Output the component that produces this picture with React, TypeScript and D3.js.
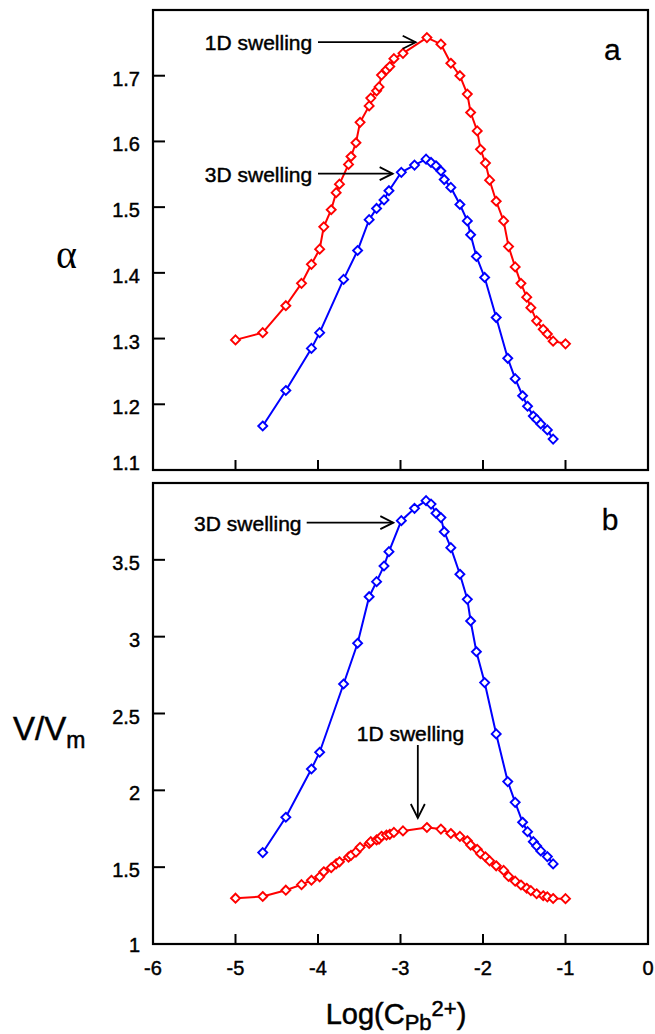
import React from "react";
import * as d3 from "d3";

// ---------- data ----------
const xTickValues = [-6, -5, -4, -3, -2, -1, 0];
const alphaTickValues = [1.1, 1.2, 1.3, 1.4, 1.5, 1.6, 1.7];
const vTickValues = [1, 1.5, 2, 2.5, 3, 3.5];

// 1D swelling (red)
const logC1D = [
  -5.0, -4.67, -4.39, -4.2, -4.08, -3.98, -3.93, -3.84, -3.78, -3.74, -3.63, -3.6,
  -3.54, -3.49, -3.38, -3.36, -3.29, -3.26, -3.23, -3.17, -3.13, -3.08, -2.97, -2.68,
  -2.51, -2.39, -2.28, -2.19, -2.15, -2.07, -2.03, -1.97, -1.92, -1.84, -1.75, -1.69,
  -1.61, -1.54, -1.47, -1.42, -1.35, -1.27, -1.22, -1.15, -1.0,
];
const alpha1D = [
  1.298, 1.309, 1.35, 1.384, 1.413, 1.436, 1.47, 1.496, 1.522, 1.535, 1.565, 1.577,
  1.598, 1.629, 1.654, 1.666, 1.677, 1.683, 1.701, 1.709, 1.714, 1.726, 1.734, 1.758,
  1.748, 1.719, 1.7, 1.672, 1.644, 1.616, 1.588, 1.567, 1.541, 1.509, 1.479, 1.44,
  1.409, 1.384, 1.363, 1.347, 1.327, 1.314, 1.307, 1.296, 1.292,
];
const vvm1D = [
  1.298, 1.309, 1.35, 1.386, 1.415, 1.437, 1.47, 1.496, 1.522, 1.535, 1.565, 1.577,
  1.598, 1.629, 1.654, 1.666, 1.677, 1.683, 1.701, 1.709, 1.714, 1.726, 1.736, 1.758,
  1.748, 1.719, 1.7, 1.672, 1.644, 1.616, 1.588, 1.567, 1.541, 1.509, 1.479, 1.44,
  1.409, 1.384, 1.363, 1.347, 1.327, 1.314, 1.307, 1.296, 1.295,
];

// 3D swelling (blue)
const logC3D = [
  -4.67, -4.39, -4.08, -3.98, -3.69, -3.52, -3.38, -3.29, -3.2, -3.14, -2.99, -2.83,
  -2.69, -2.63, -2.57, -2.51, -2.47, -2.39, -2.28, -2.19, -2.15, -2.08, -1.98, -1.84,
  -1.7, -1.61, -1.52, -1.46, -1.39, -1.35, -1.3, -1.22, -1.15,
];
const alpha3D = [
  1.167, 1.221, 1.285, 1.309, 1.39, 1.434, 1.481, 1.498, 1.511, 1.525, 1.553, 1.564,
  1.573, 1.568, 1.563, 1.555, 1.542, 1.53, 1.504, 1.479, 1.458, 1.425, 1.393, 1.332,
  1.27, 1.239, 1.213, 1.197, 1.182, 1.177, 1.17, 1.161, 1.147,
];
const vvm3D = [
  1.595, 1.825, 2.139, 2.248, 2.692, 2.957, 3.26, 3.358, 3.46, 3.553, 3.755, 3.835,
  3.885, 3.863, 3.803, 3.775, 3.683, 3.579, 3.406, 3.243, 3.102, 2.902, 2.701, 2.367,
  2.057, 1.922, 1.792, 1.731, 1.666, 1.638, 1.606, 1.569, 1.521,
];

// ---------- layout ----------
const W = 655;
const H = 1034;
const LEFT = 153;
const RIGHT = 648;
const FONT = "'Liberation Sans', Arial, Helvetica, sans-serif";
const RED = "#ff0000";
const BLUE = "#0000ff";
const TXT = { fontFamily: FONT, stroke: "#000", strokeWidth: 0.45 } as const;

const x = d3.scaleLinear().domain([-6, 0]).range([LEFT, RIGHT]);
const yTop = d3.scaleLinear().domain([1.1, 1.8]).range([470, 10]);
const yBot = d3.scaleLinear().domain([1, 4]).range([944, 483]);

type Pt = [number, number];
const zip = (xs: number[], ys: number[]): Pt[] => xs.map((v, i) => [v, ys[i]]);

function Series({ pts, y, color }: { pts: Pt[]; y: d3.ScaleLinear<number, number>; color: string }) {
  const line = d3
    .line<Pt>()
    .x((d) => x(d[0]))
    .y((d) => y(d[1]));
  const s = 4.5;
  return (
    <g>
      <path d={line(pts) || ""} fill="none" stroke={color} strokeWidth={2} />
      {pts.map((d, i) => (
        <path
          key={i}
          transform={`translate(${x(d[0])},${y(d[1])})`}
          d={`M0,${-s}L${s},0L0,${s}L${-s},0Z`}
          fill="#fff"
          stroke={color}
          strokeWidth={1.9}
        />
      ))}
    </g>
  );
}

function Frame({ y, ticks, showXLabels, fmt, lastDy }: {
  y: d3.ScaleLinear<number, number>;
  ticks: number[];
  showXLabels: boolean;
  fmt: (v: number) => string;
  lastDy: number;
}) {
  const [y0, y1] = y.range();
  return (
    <g>
      {xTickValues.slice(1, -1).map((t) => (
        <line key={"x" + t} x1={x(t)} x2={x(t)} y1={y0} y2={y0 - 10} stroke="#000" strokeWidth={2} />
      ))}
      {ticks.slice(1).map((t) => (
        <line key={"y" + t} x1={LEFT} x2={LEFT + 12} y1={y(t)} y2={y(t)} stroke="#000" strokeWidth={2} />
      ))}
      {ticks.map((t, i) => (
        <text
          key={"yl" + t}
          x={LEFT - 13}
          y={y(t) + (i === 0 ? lastDy : 3)}
          textAnchor="end"
          dominantBaseline="central"
          fontSize={20}
          {...TXT}
        >
          {fmt(t)}
        </text>
      ))}
      {showXLabels &&
        xTickValues.map((t) => (
          <text key={"xl" + t} x={x(t)} y={y0 + 31} textAnchor="middle" fontSize={20} {...TXT}>
            {t === 0 ? "0" : "-" + Math.abs(t)}
          </text>
        ))}
      <rect x={LEFT} y={y1} width={RIGHT - LEFT} height={y0 - y1} fill="none" stroke="#000" strokeWidth={2.2} />
    </g>
  );
}

function HArrow({ x0, x1, yv, y }: { x0: number; x1: number; yv: number; y: d3.ScaleLinear<number, number> }) {
  const a = x(x0);
  const b = x(x1);
  const yy = y(yv);
  return (
    <g stroke="#000" strokeWidth={1.8} fill="none">
      <line x1={a} x2={b} y1={yy} y2={yy} />
      <path d={`M${b - 13},${yy - 6.5}L${b},${yy}L${b - 13},${yy + 6.5}`} />
    </g>
  );
}

export default function App() {
  const fmtA = (v: number) => v.toFixed(1);
  const fmtV = (v: number) => (Number.isInteger(v) ? String(v) : v.toFixed(1));
  return (
    <div style={{ position: "absolute", left: 0, top: 0 }}>
      <svg width={W} height={H} style={{ display: "block", background: "#fff" }}>
        {/* panel a */}
        <Frame y={yTop} ticks={alphaTickValues} showXLabels={false} fmt={fmtA} lastDy={-7} />
        <Series pts={zip(logC1D, alpha1D)} y={yTop} color={RED} />
        <Series pts={zip(logC3D, alpha3D)} y={yTop} color={BLUE} />
        <text x={x(-4.07)} y={yTop(1.751) + 8} textAnchor="end" fontSize={21} {...TXT}>1D swelling</text>
        <HArrow x0={-4.0} x1={-2.816} yv={1.751} y={yTop} />
        <text x={x(-4.07)} y={yTop(1.551) + 8} textAnchor="end" fontSize={21} {...TXT}>3D swelling</text>
        <HArrow x0={-4.0} x1={-3.095} yv={1.551} y={yTop} />
        <text x={x(-0.533)} y={yTop(1.724)} fontSize={30} {...TXT} strokeWidth={0.3}>a</text>
        <text x={56} y={268} fontFamily="'Liberation Serif', 'Times New Roman', serif" fontSize={40}>α</text>

        {/* panel b */}
        <Frame y={yBot} ticks={vTickValues} showXLabels={true} fmt={fmtV} lastDy={1} />
        <Series pts={zip(logC3D, vvm3D)} y={yBot} color={BLUE} />
        <Series pts={zip(logC1D, vvm1D)} y={yBot} color={RED} />
        <text x={x(-4.2)} y={yBot(3.742) + 8} textAnchor="end" fontSize={21} {...TXT}>3D swelling</text>
        <HArrow x0={-4.137} x1={-3.087} yv={3.742} y={yBot} />
        <text x={x(-2.88)} y={yBot(2.32)} textAnchor="middle" fontSize={21} {...TXT}>1D swelling</text>
        <g stroke="#000" strokeWidth={1.8} fill="none">
          <line x1={x(-2.79)} x2={x(-2.79)} y1={yBot(2.295)} y2={yBot(1.82)} />
          <path d={`M${x(-2.79) - 7},${yBot(1.82) - 14}L${x(-2.79)},${yBot(1.82)}L${x(-2.79) + 7},${yBot(1.82) - 14}`} />
        </g>
        <text x={x(-0.56)} y={yBot(3.694)} fontSize={30} {...TXT} strokeWidth={0.3}>b</text>
        <text x={13} y={740} fontSize={33} {...TXT} strokeWidth={0.5}>
          V/V<tspan fontSize={23} dy={8}>m</tspan>
        </text>

        {/* x title */}
        <text x={396} y={1024} textAnchor="middle" fontSize={29} {...TXT} strokeWidth={0.5}>
          Log(C<tspan fontSize={22} dy={6}>Pb</tspan>
          <tspan fontSize={22} dy={-14}>2+</tspan>
          <tspan dy={8}>)</tspan>
        </text>
      </svg>
    </div>
  );
}
